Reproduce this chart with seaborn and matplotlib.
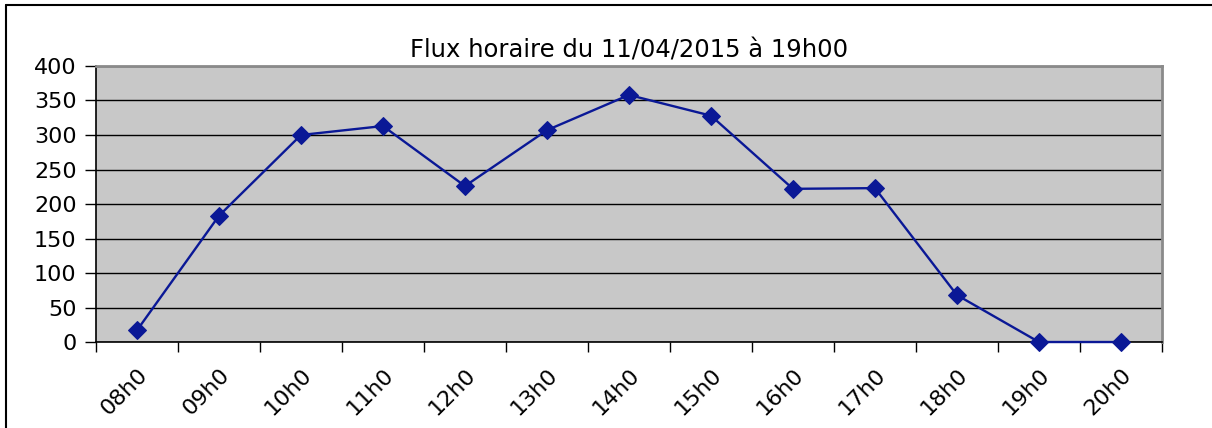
import pandas as pd
import matplotlib.pyplot as plt
import seaborn as sns
from matplotlib.lines import Line2D

# data
hours = ["08h0", "09h0", "10h0", "11h0", "12h0", "13h0", "14h0",
         "15h0", "16h0", "17h0", "18h0", "19h0", "20h0"]
flux = [17, 183, 300, 313, 226, 307, 358, 328, 222, 223, 68, 0, 0]

df = pd.DataFrame({"heure": hours, "flux": flux})

sns.set_style("white")
plt.rcParams["font.family"] = ["DejaVu Sans"]
plt.rcParams["text.color"] = "black"
plt.rcParams["xtick.color"] = "black"
plt.rcParams["ytick.color"] = "black"

fig = plt.figure(figsize=(12.12, 4.28), dpi=100)
ax = fig.add_axes([0.0792, 0.2009, 0.8795, 0.6449])
ax.set_facecolor("#c8c8c8")

sns.lineplot(data=df, x="heure", y="flux", ax=ax, color="#0a1896",
             marker="D", markersize=9, markeredgecolor="#0a1896",
             linewidth=1.7, sort=False, clip_on=False, zorder=5)

ax.set_xlim(-0.5, len(hours) - 0.5)
ax.set_ylim(0, 400)
ax.set_yticks(range(0, 401, 50))
ax.yaxis.grid(True, color="black", linewidth=1)
ax.set_axisbelow(True)

# category labels centered, ticks on boundaries
ax.set_xticks(range(len(hours)))
ax.set_xticklabels(hours, rotation=45, ha="right", rotation_mode="anchor")
ax.set_xticks([i - 0.5 for i in range(len(hours) + 1)], minor=True)
ax.tick_params(axis="x", which="major", length=0, pad=16, labelsize=16)
ax.tick_params(axis="x", which="minor", length=7, width=1, color="black",
               direction="out", bottom=True)
ax.tick_params(axis="y", length=8, width=1, color="black", direction="out",
               left=True, labelsize=16, pad=6)

ax.set_xlabel("")
ax.set_ylabel("")
ax.set_title("Flux horaire du 11/04/2015 à 19h00", fontsize=17.5, pad=6,
             color="black")

for side in ["left", "bottom"]:
    ax.spines[side].set_color("black")
    ax.spines[side].set_linewidth(1.2)
for side in ["top", "right"]:
    ax.spines[side].set_color("#8a8a8a")
    ax.spines[side].set_linewidth(2)

# outer chart border (left and top)
fig.add_artist(Line2D([6 / 1212, 6 / 1212], [0, 1 - 5 / 428],
                      transform=fig.transFigure, color="black", linewidth=1.5))
fig.add_artist(Line2D([6 / 1212, 1], [1 - 5 / 428, 1 - 5 / 428],
                      transform=fig.transFigure, color="black", linewidth=1.5))

fig.savefig("out.png", dpi=100)
